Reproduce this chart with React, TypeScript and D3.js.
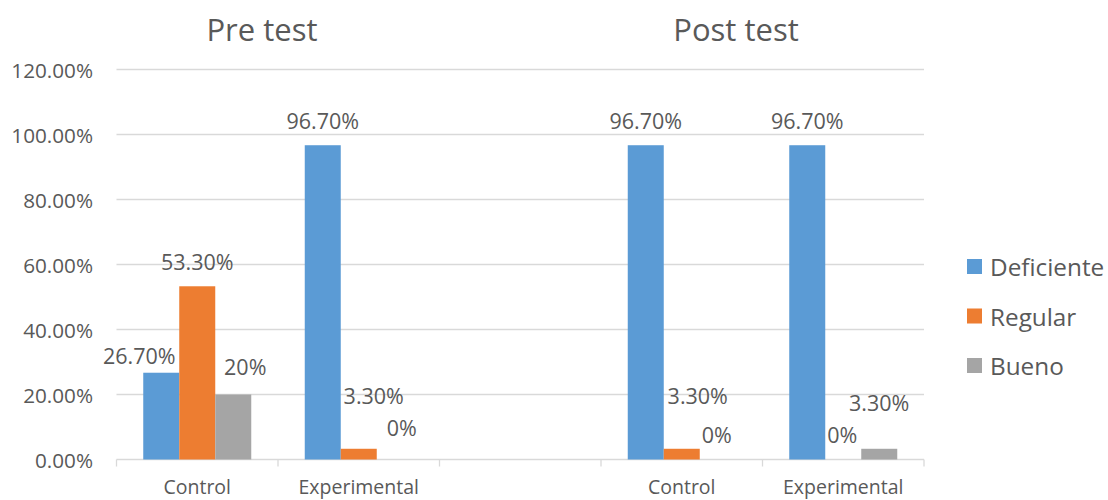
import React from "react";
import * as d3 from "d3";

// Category slots along the x axis (the empty slot separates the two test blocks)
const categories = ["Control", "Experimental", "", "Control", "Experimental"];
const seriesNames = ["Deficiente", "Regular", "Bueno"];
const seriesColors = ["#5B9BD5", "#ED7D31", "#A5A5A5"];

// Percentages per series, one entry per category slot
const deficiente = [26.7, 96.7, null, 96.7, 96.7];
const regular = [53.3, 3.3, null, 3.3, 0];
const bueno = [20, 0, null, 0, 3.3];

const yTicks = [0, 20, 40, 60, 80, 100, 120];
const blockTitles = [
  { text: "Pre test", x: 262 },
  { text: "Post test", x: 736 },
];

// Manual nudges for the data labels [series][category] -> [dx, dy]
const labelNudges: number[][][] = [
  [[-22, 8], [0, 0], [0, 0], [0, 0], [0, 0]],
  [[0, 0], [15, -28], [0, 0], [16, -28], [-1, 0]],
  [[12, -3], [7, -7], [0, 0], [-1, 0], [0, -21]],
];

const W = 1108;
const H = 500;
const margin = { left: 116.5, right: 1108 - 924, top: 69.5, bottom: 500 - 459.5 };
const FONT = "'Open Sans', Lato, sans-serif";
const TEXT = "#595959";

const fmt = (v: number) => (Number.isInteger(v) ? `${v}%` : `${v.toFixed(2)}%`);

export default function App() {
  const series = [deficiente, regular, bueno];
  const x0 = d3
    .scaleBand<number>()
    .domain(categories.map((_, i) => i))
    .range([margin.left, W - margin.right])
    .paddingInner(0)
    .paddingOuter(0);
  const x1 = d3
    .scaleBand<number>()
    .domain(seriesNames.map((_, i) => i))
    .range([0, x0.bandwidth()])
    .paddingInner(0)
    .paddingOuter(0.2477 * 3);
  const y = d3.scaleLinear().domain([0, 120]).range([H - margin.bottom, margin.top]);

  const boundaries = d3.range(categories.length + 1).map((i) => margin.left + i * x0.bandwidth());

  return (
    <svg
      width={W}
      height={H}
      style={{ position: "absolute", left: 0, top: 0, background: "#fff" }}
      fontFamily={FONT}
    >
      {/* gridlines and y tick labels */}
      {yTicks.map((t) => (
        <g key={t}>
          {t > 0 && (
            <line
              x1={margin.left}
              x2={W - margin.right}
              y1={y(t)}
              y2={y(t)}
              stroke="#D9D9D9"
              strokeWidth={1.3}
            />
          )}
          <text
            x={93}
            y={y(t)}
            textAnchor="end"
            dominantBaseline="central"
            fontSize={20.7}
            fill={TEXT}
          >
            {t.toFixed(2)}%
          </text>
        </g>
      ))}

      {/* category axis */}
      <line
        x1={margin.left}
        x2={W - margin.right}
        y1={y(0)}
        y2={y(0)}
        stroke="#D9D9D9"
        strokeWidth={1.3}
      />
      {boundaries.map((bx, i) => (
        <line key={i} x1={bx} x2={bx} y1={y(0)} y2={y(0) + 7} stroke="#D9D9D9" strokeWidth={1.3} />
      ))}
      {categories.map((c, i) => (
        <text
          key={i}
          x={(x0(i) as number) + x0.bandwidth() / 2}
          y={494}
          textAnchor="middle"
          fontSize={19.5}
          fill={TEXT}
        >
          {c}
        </text>
      ))}

      {/* bars */}
      {series.map((vals, s) =>
        vals.map((v, i) =>
          v == null ? null : (
            <rect
              key={`${s}-${i}`}
              x={(x0(i) as number) + (x1(s) as number)}
              y={y(v)}
              width={x1.bandwidth()}
              height={y(0) - y(v)}
              fill={seriesColors[s]}
            />
          )
        )
      )}

      {/* data labels */}
      {series.map((vals, s) =>
        vals.map((v, i) => {
          if (v == null) return null;
          const [dx, dy] = labelNudges[s][i];
          const cx = (x0(i) as number) + (x1(s) as number) + x1.bandwidth() / 2;
          return (
            <text
              key={`l${s}-${i}`}
              x={cx + dx}
              y={y(v) - 25 + dy}
              textAnchor="middle"
              dominantBaseline="central"
              fontSize={21.5}
              fill={TEXT}
            >
              {fmt(v)}
            </text>
          );
        })
      )}

      {/* block titles */}
      {blockTitles.map((t) => (
        <text
          key={t.text}
          x={t.x}
          y={29}
          textAnchor="middle"
          dominantBaseline="central"
          fontSize={31}
          fill={TEXT}
        >
          {t.text}
        </text>
      ))}

      {/* legend */}
      {seriesNames.map((n, s) => (
        <g key={n} transform={`translate(967, ${266.5 + s * 49.5})`}>
          <rect x={0} y={-7.5} width={15} height={15} fill={seriesColors[s]} />
          <text x={23} y={0} dominantBaseline="central" fontSize={24.3} fill={TEXT}>
            {n}
          </text>
        </g>
      ))}
    </svg>
  );
}
